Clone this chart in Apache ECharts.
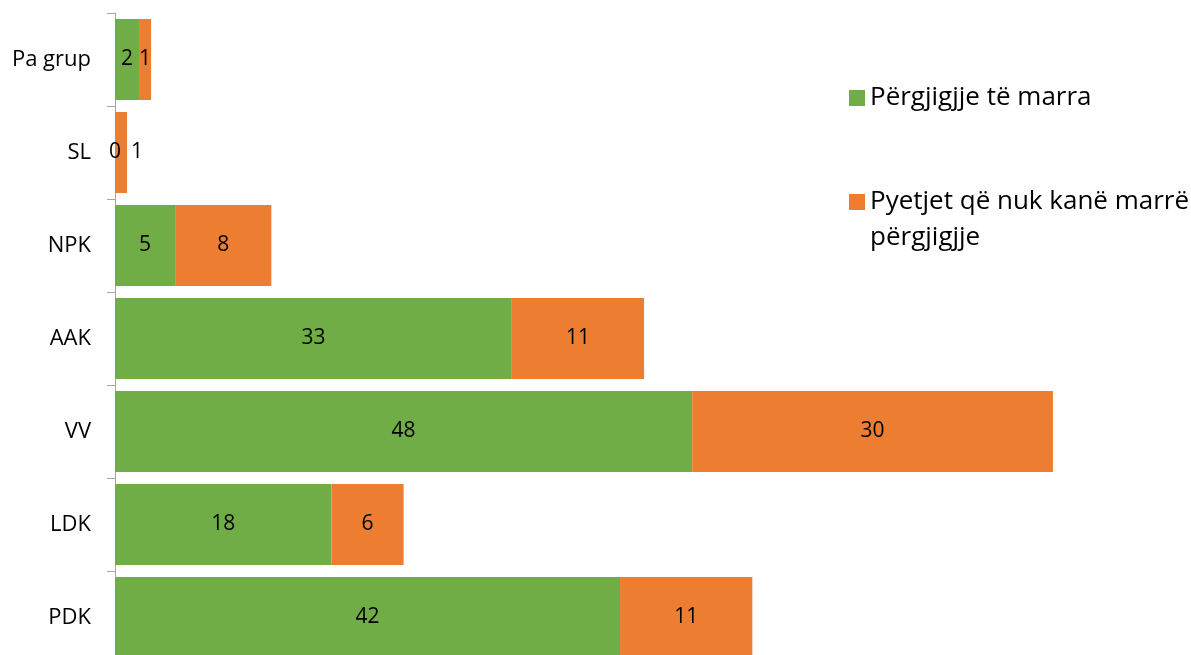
<!DOCTYPE html>
<html>
<head>
<meta charset="utf-8">
<script src="https://cdn.jsdelivr.net/npm/echarts@6/dist/echarts.min.js"></script>
<style>
  html, body { margin: 0; padding: 0; background: #ffffff; }
  #chart { width: 1191px; height: 655px; }
</style>
</head>
<body>
<div id="chart"></div>
<script>
// grupet parlamentare, nga poshtë lart
const categories = ['PDK', 'LDK', 'VV', 'AAK', 'NPK', 'SL', 'Pa grup']
const answered = [42, 18, 48, 33, 5, 0, 2]
const unanswered = [11, 6, 30, 11, 8, 1, 1]
const seriesNames = ['Përgjigjje të marra', 'Pyetjet që nuk kanë marrë përgjigjje']

const FONT = '"Open Sans", sans-serif'
const chart = echarts.init(document.getElementById('chart'))

const option = {
  backgroundColor: '#ffffff',
  animation: false,
  textStyle: { fontFamily: FONT },
  legend: {
    orient: 'vertical',
    left: 844,
    top: 75,
    itemGap: 32,
    itemWidth: 16,
    itemHeight: 16,
    icon: 'rect',
    data: seriesNames,
    // rreshti bosh i parë mban katrorin në lartësinë e rreshtit të parë
    formatter: name => name === seriesNames[1] ? ' \nPyetjet që nuk kanë marrë\npërgjigjje' : name,
    textStyle: { fontFamily: FONT, fontSize: 26, color: '#000', lineHeight: 36 }
  },
  grid: { left: 115, right: 114, top: 13, height: 651, containLabel: false, outerBoundsMode: 'none' },
  xAxis: {
    type: 'value',
    min: 0,
    max: 80,
    show: false
  },
  yAxis: {
    type: 'category',
    data: categories,
    axisLine: { show: true, lineStyle: { color: '#a6a6a6', width: 1 } },
    axisTick: { show: true, length: 8, lineStyle: { color: '#a6a6a6' } },
    axisLabel: { color: '#000', fontSize: 22, fontFamily: FONT, margin: 24 }
  },
  series: [
    {
      name: seriesNames[0],
      type: 'bar',
      stack: 'total',
      barCategoryGap: '13%',
      data: answered,
      itemStyle: { color: '#70AD47' },
      label: { show: true, position: 'inside', color: '#000', fontSize: 21, fontFamily: FONT }
    },
    {
      name: seriesNames[1],
      type: 'bar',
      stack: 'total',
      barCategoryGap: '13%',
      data: unanswered.map((v, i) => categories[i] === 'SL'
        ? { value: v, label: { offset: [16, 0] } }
        : v),
      itemStyle: { color: '#ED7D31' },
      label: { show: true, position: 'inside', color: '#000', fontSize: 21, fontFamily: FONT }
    }
  ]
}

chart.setOption(option)
window.addEventListener('resize', () => chart.resize())
</script>
</body>
</html>
